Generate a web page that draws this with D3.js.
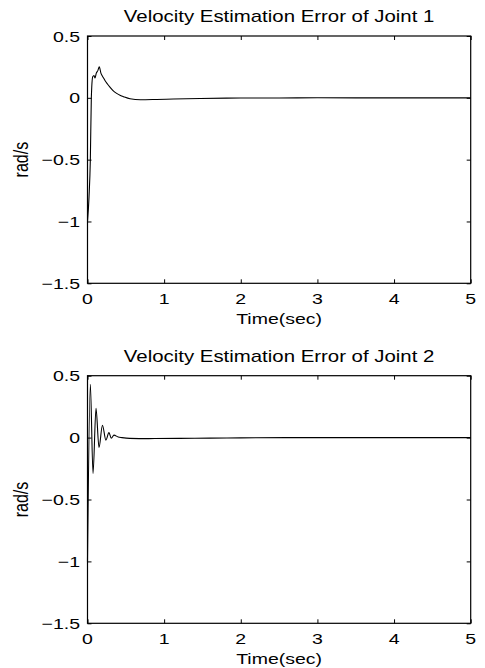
<!DOCTYPE html>
<html>
<head>
<meta charset="utf-8">
<script src="https://cdn.jsdelivr.net/npm/d3@7"></script>
<style>
  body { margin: 0; background: #fff; }
  text { font-family: "Liberation Sans", Arial, Helvetica, sans-serif; fill: #000; }
</style>
</head>
<body>
<svg id="fig" width="485" height="668"></svg>
<script>
// Axis ticks and labels
const xTicks = [0, 1, 2, 3, 4, 5];
const xTickLabels = ["0", "1", "2", "3", "4", "5"];
const yTicks = [-1.5, -1, -0.5, 0, 0.5];
const yTickLabels = ["\u22121.5", "\u22121", "\u22120.5", "0", "0.5"];
const titles = ["Velocity Estimation Error of Joint 1", "Velocity Estimation Error of Joint 2"];
const xLabel = "Time(sec)";
const yLabel = "rad/s";

// Joint 1 velocity estimation error (rad/s) over time (sec)
const joint1Time = [0, 0.02, 0.037, 0.05, 0.068, 0.085, 0.098, 0.115, 0.135, 0.154, 0.175, 0.19, 0.205,
  0.228, 0.26, 0.29, 0.33, 0.38, 0.43, 0.47, 0.555, 0.69, 0.9, 1.12, 1.47, 2.0, 2.5, 3.0, 4.0, 5.0];
const joint1Err = [-1.0, -0.8, -0.5, 0.0, 0.17, 0.18, 0.16, 0.2, 0.22, 0.25, 0.2, 0.18, 0.165,
  0.14, 0.112, 0.088, 0.06, 0.036, 0.019, 0.009, -0.008, -0.015, -0.013, -0.01, -0.005, -0.002, -0.001, 0, 0, 0];

// Joint 2 velocity estimation error (rad/s) over time (sec)
const joint2Time = [0, 0.037, 0.072, 0.111, 0.15, 0.195, 0.24, 0.28, 0.31, 0.345, 0.4, 0.45,
  0.55, 0.8, 1.2, 1.6, 2.0, 3.0, 4.0, 5.0];
const joint2Err = [-1.0, 0.43, -0.29, 0.236, -0.08, 0.1, -0.02, 0.04, -0.005, 0.02, 0.005, 0.0,
  -0.006, -0.008, -0.006, -0.004, -0.002, 0, 0, 0];

const svg = d3.select("#fig");
const sx = 1.3;          // horizontal glyph stretch of the figure text
const fontSize = 15;

const panels = [
  { top: 36, bottom: 283.3, time: joint1Time, err: joint1Err, title: titles[0] },
  { top: 375.7, bottom: 623.3, time: joint2Time, err: joint2Err, title: titles[1] }
];
const left = 87.5, right = 470.7;

function stretchedText(g, x, y, str, anchor, size, extra) {
  return g.append("text")
    .attr("transform", `translate(${x},${y}) scale(${sx},1)` + (extra || ""))
    .attr("text-anchor", anchor)
    .attr("font-size", size)
    .text(str);
}

panels.forEach(p => {
  const g = svg.append("g");
  const x = d3.scaleLinear().domain([0, 5]).range([left, right]);
  const y = d3.scaleLinear().domain([-1.5, 0.5]).range([p.bottom, p.top]);

  // inward ticks on all four sides
  const tl = 4;
  const axes = [
    [d3.axisBottom(x).tickValues(xTicks), p.bottom, "y"],
    [d3.axisTop(x).tickValues(xTicks), p.top, "y"],
    [d3.axisLeft(y).tickValues(yTicks), left, "x"],
    [d3.axisRight(y).tickValues(yTicks), right, "x"]
  ];
  axes.forEach(([ax, pos, dir]) => {
    const a = g.append("g")
      .attr("transform", dir === "y" ? `translate(0,${pos})` : `translate(${pos},0)`)
      .call(ax.tickSize(-tl).tickFormat(""));
    a.select(".domain").remove();
    a.selectAll(".tick line").attr("stroke", "#000").attr("stroke-width", 1);
  });

  // curve
  const line = d3.line()
    .x((d, i) => x(p.time[i]))
    .y(d => y(d))
    .curve(d3.curveMonotoneX);
  g.append("path")
    .attr("d", line(p.err))
    .attr("fill", "none")
    .attr("stroke", "#000")
    .attr("stroke-width", 1.1);

  // box
  g.append("rect")
    .attr("x", left).attr("y", p.top)
    .attr("width", right - left).attr("height", p.bottom - p.top)
    .attr("fill", "none").attr("stroke", "#000").attr("stroke-width", 1.2);

  // tick labels
  xTicks.forEach((v, i) => stretchedText(g, x(v), p.bottom + 20.7, xTickLabels[i], "middle", fontSize));
  yTicks.forEach((v, i) => stretchedText(g, left - 7.5, y(v) + 5.5, yTickLabels[i], "end", fontSize));

  // axis titles
  stretchedText(g, (left + right) / 2, p.bottom + 40.5, xLabel, "middle", fontSize);
  stretchedText(g, 28, (p.top + p.bottom) / 2, yLabel, "middle", 16, " rotate(-90)");
  stretchedText(g, (left + right) / 2, p.top - 14, p.title, "middle", 15.7);
});
</script>
</body>
</html>
